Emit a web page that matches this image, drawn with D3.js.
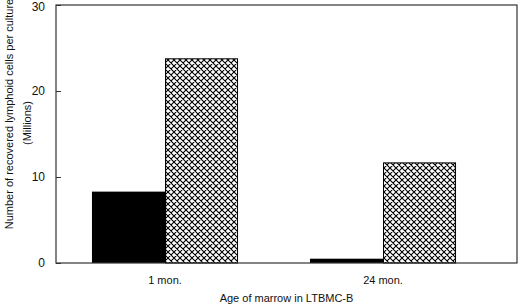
<!DOCTYPE html>
<meta charset="utf-8">
<script src="https://d3js.org/d3.v7.js"></script>
<style>
  body { margin: 0; background: #fff; }
  text { font-family: "Liberation Sans", Arial, sans-serif; fill: #111; }
</style>
<div id="chart"></div>
<script>
// data
var ages = ["1 mon.", "24 mon."];
var solidValues = [8.3, 0.5];
var hatchValues = [23.8, 11.7];
var yTicks = [0, 10, 20, 30];

var W = 520, H = 306;
var plotLeft = 56, plotRight = 517, plotTop = 5, plotBottom = 263;

var svg = d3.select("#chart").append("svg")
  .attr("width", W).attr("height", H);

// cross hatch pattern
var pat = svg.append("defs").append("pattern")
  .attr("id", "hatch")
  .attr("patternUnits", "userSpaceOnUse")
  .attr("width", 6).attr("height", 6);
pat.append("rect").attr("width", 6).attr("height", 6).attr("fill", "#fff");
pat.append("path")
  .attr("d", "M0,0L6,6M6,0L0,6M-1,5L1,7M5,-1L7,1M-1,1L1,-1M5,7L7,5")
  .attr("stroke", "#000").attr("stroke-width", 1.1);

var y = d3.scaleLinear().domain([0, 30]).range([plotBottom, plotTop]);
var x = d3.scaleBand().domain(ages).range([plotLeft, 492])
  .paddingInner(0.33).paddingOuter(0.165);
var sub = d3.scaleBand().domain(["solid", "hatch"]).range([0, x.bandwidth()]);

var rows = ages.map(function(a, i) {
  return { age: a, solid: solidValues[i], hatch: hatchValues[i] };
});

// bars
var g = svg.append("g");
g.selectAll(".solid").data(rows).join("rect")
  .attr("class", "solid")
  .attr("x", d => x(d.age) + sub("solid"))
  .attr("width", sub.bandwidth())
  .attr("y", d => y(d.solid))
  .attr("height", d => y(0) - y(d.solid))
  .attr("fill", "#000");

g.selectAll(".hatch").data(rows).join("rect")
  .attr("class", "hatch")
  .attr("x", d => x(d.age) + sub("hatch") + 0.5)
  .attr("width", sub.bandwidth() - 1)
  .attr("y", d => y(d.hatch) + 0.5)
  .attr("height", d => y(0) - y(d.hatch) - 0.5)
  .attr("fill", "url(#hatch)")
  .attr("stroke", "#000").attr("stroke-width", 1);

// frame
svg.append("rect")
  .attr("x", plotLeft).attr("y", plotTop)
  .attr("width", plotRight - plotLeft).attr("height", plotBottom - plotTop)
  .attr("fill", "none").attr("stroke", "#333").attr("stroke-width", 1.2);

// y axis, ticks inward
var yAxis = d3.axisLeft(y).tickValues(yTicks).tickSize(-5).tickPadding(11);
var ya = svg.append("g").attr("transform", "translate(" + plotLeft + ",0)").call(yAxis);
ya.select(".domain").remove();
ya.selectAll("line").attr("stroke", "#333");
ya.selectAll("text").style("font-size", "12px").attr("fill", "#111");
ya.selectAll(".tick").filter(d => d === 30).select("text").attr("dy", "0.45em");

// x labels
var xAxis = d3.axisBottom(x).tickSize(0).tickPadding(13);
var xa = svg.append("g").attr("transform", "translate(0," + plotBottom + ")").call(xAxis);
xa.select(".domain").remove();
xa.selectAll("text").style("font-size", "11px").attr("fill", "#111");

svg.append("text")
  .attr("x", (plotLeft + plotRight) / 2).attr("y", 302)
  .attr("text-anchor", "middle").style("font-size", "11px")
  .text("Age of marrow in LTBMC-B");

svg.append("text")
  .attr("transform", "translate(13,114) rotate(-90)")
  .attr("text-anchor", "middle").style("font-size", "11px")
  .text("Number of recovered lymphoid cells per culture");

svg.append("text")
  .attr("transform", "translate(31,123) rotate(-90)")
  .attr("text-anchor", "middle").style("font-size", "11px")
  .text("(Millions)");
</script>
